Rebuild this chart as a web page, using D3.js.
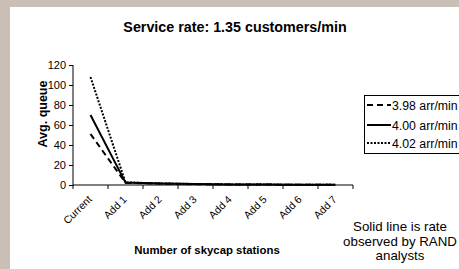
<!DOCTYPE html>
<html><head><meta charset="utf-8">
<script src="https://cdn.jsdelivr.net/npm/d3@7"></script>
<style>body{margin:0;padding:0;background:#fff}svg{display:block}text{font-family:"Liberation Sans",Arial,sans-serif}</style>
</head><body>
<script>
const categories = ["Current","Add 1","Add 2","Add 3","Add 4","Add 5","Add 6","Add 7"];
const seriesNames = ["3.98 arr/min","4.00 arr/min","4.02 arr/min"];
const values398 = [51, 2.2, 1.4, 0.8, 0.5, 0.4, 0.3, 0.2];
const values400 = [70, 2.4, 1.5, 0.9, 0.6, 0.4, 0.3, 0.2];
const values402 = [108, 2.6, 1.6, 1.0, 0.6, 0.4, 0.3, 0.2];
const yTicks = [0,20,40,60,80,100,120];
const dashes = ["6,4", null, "2,1.5"];

const W=459,H=269;
const svg=d3.select("body").append("svg").attr("width",W).attr("height",H);
svg.append("rect").attr("width",W).attr("height",H).attr("fill","#c9bfb6");
svg.append("rect").attr("x",10).attr("y",7).attr("width",W-10).attr("height",H-7).attr("fill","#fff");

const x=d3.scaleBand().domain(categories).range([73,353]);
const y=d3.scaleLinear().domain([0,120]).range([185,65]);

svg.append("text").attr("x",235).attr("y",32).attr("text-anchor","middle")
  .attr("font-size",14.3).attr("font-weight","bold").text("Service rate: 1.35 customers/min");

// y axis
const ya=svg.append("g").attr("transform","translate(73,0)")
  .call(d3.axisLeft(y).tickValues(yTicks).tickSize(4).tickPadding(3));
ya.selectAll("text").attr("font-size",11).attr("fill","#000").style("font-family","Liberation Sans, Arial, sans-serif");
ya.selectAll("line,path").attr("stroke","#000");
ya.select(".domain").attr("d","M0,185V65");

// x axis
const xa=svg.append("g").attr("transform","translate(0,185)")
  .call(d3.axisBottom(x).tickSize(0).tickFormat(""));
xa.select(".domain").attr("stroke","#000").attr("d","M73,0H353");
const tickPos=d3.range(categories.length+1).map(i=>73+i*x.step());
svg.append("g").selectAll("line").data(tickPos).join("line")
  .attr("x1",d=>d).attr("x2",d=>d).attr("y1",185).attr("y2",189).attr("stroke","#000");
svg.append("g").selectAll("text").data(categories).join("text")
  .attr("transform",d=>`translate(${x(d)+x.bandwidth()/2+2},${200}) rotate(-45)`)
  .attr("text-anchor","end").attr("font-size",10.5).text(d=>d);

svg.append("text").attr("x",207).attr("y",254).attr("text-anchor","middle")
  .attr("font-size",11.4).attr("font-weight","bold").text("Number of skycap stations");
svg.append("text").attr("transform","translate(47,114) rotate(-90)").attr("text-anchor","middle")
  .attr("font-size",12.5).attr("font-weight","bold").text("Avg. queue");

// lines
const series=[values398,values400,values402];
const line=d3.line().x((d,i)=>x(categories[i])+x.bandwidth()/2).y(d=>y(d));
svg.append("g").selectAll("path").data(series).join("path")
  .attr("d",line).attr("fill","none").attr("stroke","#000").attr("stroke-width",2)
  .attr("stroke-dasharray",(d,i)=>dashes[i]);

// legend
const lg=svg.append("g");
lg.append("rect").attr("x",364.5).attr("y",95.5).attr("width",100).attr("height",58)
  .attr("fill","#fff").attr("stroke","#000");
const ly=[105,125,143];
seriesNames.forEach((n,i)=>{
  lg.append("line").attr("x1",367).attr("x2",391).attr("y1",ly[i]).attr("y2",ly[i])
    .attr("stroke","#000").attr("stroke-width",2).attr("stroke-dasharray",dashes[i]);
  lg.append("text").attr("x",392).attr("y",ly[i]+4.5).attr("font-size",12.3).text(n);
});

// annotation
const ann=["Solid line is rate","observed by RAND","analysts"];
svg.append("g").selectAll("text").data(ann).join("text")
  .attr("x",400).attr("y",(d,i)=>231+i*14.5).attr("text-anchor","middle")
  .attr("font-size",13.3).text(d=>d);
</script>
</body></html>
